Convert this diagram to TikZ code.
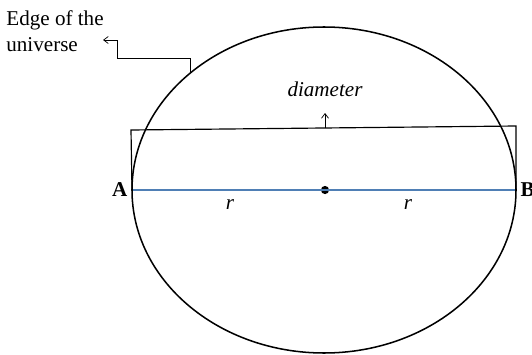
\documentclass[tikz,border=0pt]{standalone}
\usepackage{fontspec}
\setmainfont{Liberation Serif}
\usetikzlibrary{arrows.meta,positioning,calc}
\definecolor{blu}{HTML}{4F7FB5}
\tikzset{
  lbl/.style={font=\fontsize{18}{22}\selectfont,inner sep=1pt},
  ptlbl/.style={lbl,font=\fontsize{18}{22}\selectfont\bfseries},
  itlbl/.style={lbl,font=\fontsize{18}{22}\selectfont\itshape},
  ar/.style={-{Straight Barb[length=4pt,width=6pt]},line width=0.6pt},
}
\begin{document}
\begin{tikzpicture}[x=0.03cm,y=0.03cm]
  \useasboundingbox (0,0) rectangle (532,354);
  % ---- universe
  \draw[line width=1.3pt] (324,164) ellipse [x radius=192,y radius=163];
  \coordinate (e) at (190,281);
  \coordinate (t) at (103,314);
  \node[lbl,align=left,anchor=north west] (edge) at (5,345) {Edge of the\\universe};
  \draw[ar] (e) |- (117,296) |- (t);

  % ---- diameter
  \node[inner sep=0pt] (A) at (132,164) {};
  \node[inner sep=0pt] (B) at (516,164) {};
  \node[circle,fill,inner sep=0pt,minimum size=7pt] (o) at (325,164) {};
  \node[ptlbl,left=2pt of A] {A};
  \node[ptlbl,right=2pt of B] {B};
  \draw[blu,line width=1pt] (A) -- (B);
  \node[itlbl] (r1) at (230,149) {r};
  \node[itlbl] (r2) at (408,149) {r};
  \draw[line width=1pt] (A.center) -- (131,224) -- (516,228) -- (B.center);
  \node[itlbl] (dia) at (325,265) {diameter};
  \coordinate (m) at (325,226);
  \draw[ar] (m) -- (325,241);
\end{tikzpicture}
\end{document}
